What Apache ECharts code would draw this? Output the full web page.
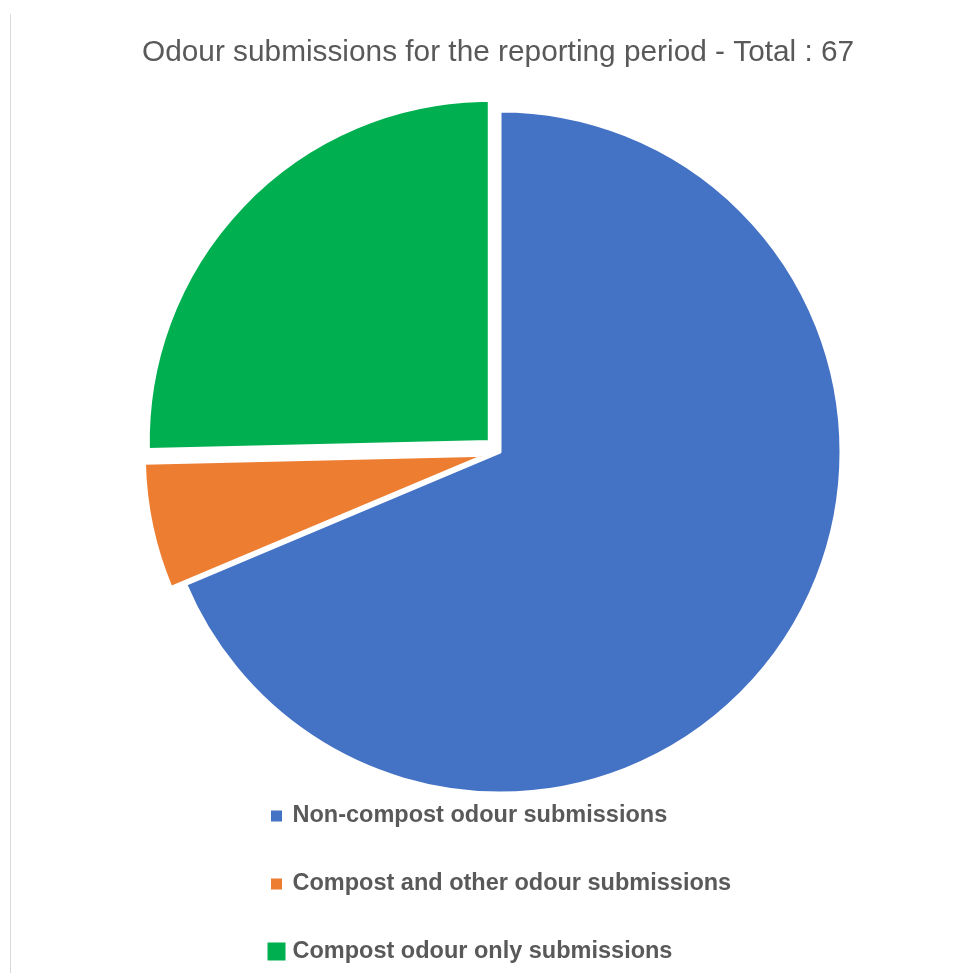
<!DOCTYPE html>
<html>
<head>
<meta charset="utf-8">
<script src="https://cdn.jsdelivr.net/npm/echarts@6/dist/echarts.min.js"></script>
<style>
html,body{margin:0;padding:0;background:#fff;}
#chart{width:974px;height:973px;}
</style>
</head>
<body>
<div id="chart"></div>
<script>
const categories = ['Non-compost odour submissions', 'Compost and other odour submissions', 'Compost odour only submissions'];
const values = [46, 4, 17];
const colors = ['#4472C4', '#ED7D31', '#00B050'];
const exploded = [false, true, true];
const titleText = 'Odour submissions for the reporting period - Total : 67';

const chart = echarts.init(document.getElementById('chart'), null, {renderer: 'canvas'});
chart.setOption({
  animation: false,
  backgroundColor: '#ffffff',
  title: {
    text: titleText,
    left: 142,
    top: 38,
    padding: 0,
    textStyle: {
      fontFamily: 'Liberation Sans',
      fontSize: 29.8,
      fontWeight: 'normal',
      color: '#595959'
    }
  },
  legend: {
    orient: 'vertical',
    left: 264,
    top: 803.5,
    padding: 0,
    itemWidth: 18,
    itemHeight: 18,
    itemGap: 43,
    selectedMode: false,
    textStyle: {
      fontFamily: 'Liberation Sans',
      fontSize: 23.5,
      fontWeight: 'bold',
      color: '#595959',
      lineHeight: 24,
      padding: [0, 0, 0, 2]
    },
    data: categories.map((c, i) => ({
      name: c,
      icon: 'rect',
      itemStyle: i < 2 ? {borderColor: '#ffffff', borderWidth: 7} : {borderWidth: 0}
    }))
  },
  graphic: [{
    type: 'line',
    shape: {x1: 10.5, y1: 14, x2: 10.5, y2: 973},
    style: {stroke: '#d9d9d9', lineWidth: 1},
    silent: true
  }],
  series: [{
    type: 'pie',
    center: [500, 452],
    radius: 341,
    startAngle: 90,
    clockwise: true,
    selectedMode: 'multiple',
    selectedOffset: 15,
    label: {show: false},
    labelLine: {show: false},
    emphasis: {disabled: true},
    itemStyle: {borderColor: '#ffffff', borderWidth: 3},
    select: {itemStyle: {borderColor: '#ffffff', borderWidth: 3}},
    data: categories.map((c, i) => ({
      name: c,
      value: values[i],
      selected: exploded[i],
      itemStyle: {color: colors[i]},
      select: {itemStyle: {color: colors[i]}}
    }))
  }]
});
</script>
</body>
</html>
